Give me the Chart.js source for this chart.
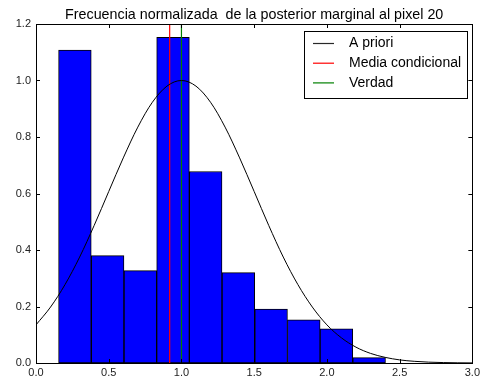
<!DOCTYPE html>
<html>
<head>
<meta charset="utf-8">
<script src="https://cdn.jsdelivr.net/npm/chart.js@4/dist/chart.umd.min.js"></script>
<style>
  html, body { margin: 0; padding: 0; background: #fff; }
  #wrap { width: 483px; height: 381px; }
</style>
</head>
<body>
<div id="wrap"><canvas id="chart"></canvas></div>
<script>
// histogram bins (edges) and normalized frequency of each bin
const binEdges = [0.155, 0.380, 0.605, 0.830, 1.054, 1.279, 1.504, 1.729, 1.953, 2.178, 2.403];
const frequencies = [1.108, 0.380, 0.327, 1.153, 0.678, 0.320, 0.191, 0.153, 0.121, 0.019];

// prior density curve
const priorX = [0.0, 0.1, 0.2, 0.3, 0.4, 0.5, 0.6, 0.7, 0.8, 0.9, 1.0, 1.1, 1.2, 1.3, 1.4, 1.5,
                1.6, 1.7, 1.8, 1.9, 2.0, 2.1, 2.2, 2.3, 2.4, 2.5, 2.6, 2.7, 2.8, 2.9, 3.0];
const priorY = [0.135, 0.198, 0.278, 0.375, 0.487, 0.607, 0.726, 0.835, 0.923, 0.980, 1.000,
                0.980, 0.923, 0.835, 0.726, 0.607, 0.487, 0.375, 0.278, 0.198, 0.135, 0.089,
                0.056, 0.034, 0.020, 0.011, 0.006, 0.003, 0.0015, 0.0007, 0.0003];

const conditionalMean = 0.919;
const trueValue = 1.0;

const xTicks = [0.0, 0.5, 1.0, 1.5, 2.0, 2.5, 3.0];
const yTicks = [0.0, 0.2, 0.4, 0.6, 0.8, 1.0, 1.2];

const titleText = "Frecuencia normalizada  de la posterior marginal al pixel 20";
const legendLabels = ["A priori", "Media condicional", "Verdad"];
const legendColors = ["rgb(40,40,40)", "rgb(255,0,0)", "rgb(0,128,0)"];

const barData = frequencies.map((f, i) => ({ x: (binEdges[i] + binEdges[i + 1]) / 2, y: f }));
const priorData = priorX.map((x, i) => ({ x: x, y: priorY[i] }));

const FONT = "'Liberation Sans', Arial, sans-serif";

// frame, inward ticks on all sides, title and legend box
const decorations = {
    id: "decorations",
    afterDraw(chart) {
        const ctx = chart.ctx;
        const a = chart.chartArea;
        const xs = chart.scales.x, ys = chart.scales.y;
        const tick = 4;
        ctx.save();
        ctx.strokeStyle = "#000";
        ctx.lineWidth = 1;
        ctx.beginPath();
        xTicks.forEach(v => {
            const px = Math.round(xs.getPixelForValue(v)) + 0.5;
            ctx.moveTo(px, a.bottom); ctx.lineTo(px, a.bottom - tick);
            ctx.moveTo(px, a.top); ctx.lineTo(px, a.top + tick);
        });
        yTicks.forEach(v => {
            const py = Math.round(ys.getPixelForValue(v)) + 0.5;
            ctx.moveTo(a.left, py); ctx.lineTo(a.left + tick, py);
            ctx.moveTo(a.right, py); ctx.lineTo(a.right - tick, py);
        });
        ctx.stroke();
        ctx.strokeRect(Math.round(a.left) + 0.5, Math.round(a.top) + 0.5,
                       Math.round(a.right - a.left), Math.round(a.bottom - a.top));

        // title
        ctx.fillStyle = "#000";
        ctx.font = "14.3px " + FONT;
        ctx.textAlign = "center";
        ctx.textBaseline = "alphabetic";
        ctx.fillText(titleText, (a.left + a.right) / 2, 19);

        // legend
        const bx = 304.5, by = 31.5, bw = 163, bh = 67;
        ctx.fillStyle = "#fff";
        ctx.fillRect(bx, by, bw, bh);
        ctx.strokeStyle = "#000";
        ctx.strokeRect(bx, by, bw, bh);
        ctx.font = "14px " + FONT;
        ctx.textAlign = "left";
        ctx.textBaseline = "middle";
        legendLabels.forEach((label, i) => {
            const y = 43.5 + i * 19.7;
            ctx.beginPath();
            ctx.strokeStyle = legendColors[i];
            ctx.lineWidth = 1.2;
            ctx.moveTo(313, y);
            ctx.lineTo(334, y);
            ctx.stroke();
            ctx.fillStyle = "#000";
            ctx.fillText(label, 349, y);
        });
        ctx.restore();
    }
};

new Chart(document.getElementById("chart"), {
    type: "bar",
    data: {
        datasets: [
            {
                type: "line",
                data: priorData,
                borderColor: "#000",
                borderWidth: 1,
                pointRadius: 0,
                cubicInterpolationMode: "monotone",
                order: 0
            },
            {
                type: "line",
                data: [{ x: conditionalMean, y: 0 }, { x: conditionalMean, y: 1.2 }],
                borderColor: "rgb(255,0,0)",
                borderWidth: 1.2,
                pointRadius: 0,
                order: 0
            },
            {
                type: "line",
                data: [{ x: trueValue, y: 0 }, { x: trueValue, y: 1.2 }],
                borderColor: "rgb(0,128,0)",
                borderWidth: 1.2,
                pointRadius: 0,
                order: 0
            },
            {
                type: "bar",
                data: barData,
                backgroundColor: "#0000ff",
                borderColor: "#000",
                borderWidth: 1,
                borderSkipped: false,
                barPercentage: 1,
                categoryPercentage: 1,
                order: 1
            }
        ]
    },
    options: {
        responsive: true,
        maintainAspectRatio: false,
        animation: false,
        layout: { padding: { top: 24, right: 8, left: 0, bottom: 0 } },
        plugins: {
            legend: { display: false },
            title: { display: false },
            tooltip: { enabled: false }
        },
        scales: {
            x: {
                type: "linear",
                min: 0,
                max: 3,
                offset: false,
                grid: { display: false, drawTicks: false },
                border: { display: false },
                afterBuildTicks: s => { s.ticks = xTicks.map(v => ({ value: v })); },
                afterFit: s => { s.height = 18; },
                ticks: {
                    autoSkip: false,
                    maxRotation: 0,
                    padding: 3,
                    color: "#222",
                    font: { family: FONT, size: 11 },
                    callback: v => v.toFixed(1)
                }
            },
            y: {
                min: 0,
                max: 1.2,
                grid: { display: false, drawTicks: false },
                border: { display: false },
                afterBuildTicks: s => { s.ticks = yTicks.map(v => ({ value: v })); },
                afterFit: s => { s.width = 36; },
                ticks: {
                    padding: 5,
                    color: "#222",
                    font: { family: FONT, size: 11 },
                    callback: v => v.toFixed(1)
                }
            }
        }
    },
    plugins: [decorations]
});
</script>
</body>
</html>
